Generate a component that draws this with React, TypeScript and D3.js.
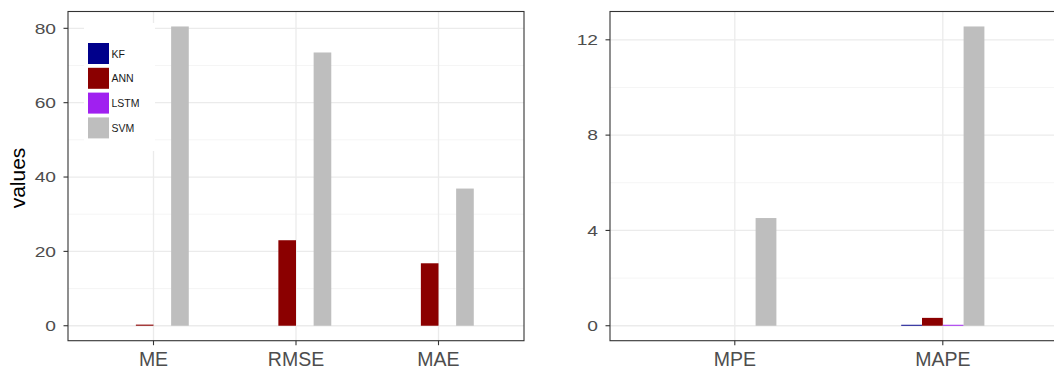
import React from "react";
import * as d3 from "d3";

// Error metrics per model
const seriesNames = ["KF", "ANN", "LSTM", "SVM"];
const seriesColors = ["#00008B", "#8B0000", "#A020F0", "#BEBEBE"];

const leftCategories = ["ME", "RMSE", "MAE"];
const leftKF = [0, 0, 0];
const leftANN = [0.3, 23.0, 16.8];
const leftLSTM = [0, 0, 0];
const leftSVM = [80.5, 73.5, 36.9];
const leftTicks = [0, 20, 40, 60, 80];
const leftMinor = [10, 30, 50, 70];

const rightCategories = ["MPE", "MAPE"];
const rightKF = [0, 0.04];
const rightANN = [0, 0.33];
const rightLSTM = [0, 0.04];
const rightSVM = [4.52, 12.56];
const rightTicks = [0, 4, 8, 12];
const rightMinor = [2, 6, 10];

const W = 1054;
const H = 370;
const FONT = "'Liberation Sans', Arial, sans-serif";
const STRETCH = 1.28;

type PanelProps = {
  x0: number;
  x1: number;
  y0: number;
  y1: number;
  categories: string[];
  series: number[][];
  ticks: number[];
  minor: number[];
  groupWidth: number;
};

function Panel({ x0, x1, y0, y1, categories, series, ticks, minor, groupWidth }: PanelProps) {
  const all = series.flat();
  const lo = Math.min(0, d3.min(all) as number);
  const hi = d3.max(all) as number;
  const pad = (hi - lo) * 0.05;
  const y = d3.scaleLinear().domain([lo - pad, hi + pad]).range([y1, y0]);
  const x = d3.scalePoint<string>().domain(categories).range([x0, x1]).padding(0.6);
  const step = x.step();
  const inner = d3
    .scaleBand<string>()
    .domain(seriesNames)
    .range([-(groupWidth * step) / 2, (groupWidth * step) / 2])
    .padding(0);

  return (
    <g>
      <rect x={x0} y={y0} width={x1 - x0} height={y1 - y0} fill="#fff" />
      {minor.map((t) => (
        <line key={"mi" + t} x1={x0} x2={x1} y1={y(t)} y2={y(t)} stroke="#F3F3F3" strokeWidth={0.8} />
      ))}
      {ticks.map((t) => (
        <line key={"ma" + t} x1={x0} x2={x1} y1={y(t)} y2={y(t)} stroke="#EBEBEB" strokeWidth={1.3} />
      ))}
      {categories.map((c) => (
        <line key={"v" + c} x1={x(c)!} x2={x(c)!} y1={y0} y2={y1} stroke="#EBEBEB" strokeWidth={1.3} />
      ))}
      {categories.map((c, ci) =>
        seriesNames.map((s, si) => {
          const v = series[si][ci];
          const bx = (x(c) as number) + (inner(s) as number);
          const top = Math.min(y(v), y(0));
          const h = Math.abs(y(v) - y(0));
          return (
            <rect
              key={c + s}
              x={bx}
              y={top}
              width={inner.bandwidth()}
              height={h}
              fill={seriesColors[si]}
            />
          );
        })
      )}
      <rect x={x0} y={y0} width={x1 - x0} height={y1 - y0} fill="none" stroke="#333333" strokeWidth={1.1} />
      {ticks.map((t) => (
        <g key={"yt" + t}>
          <line x1={x0 - 4.5} x2={x0} y1={y(t)} y2={y(t)} stroke="#333333" strokeWidth={1.1} />
          <text
            transform={`translate(${x0 - 12},${y(t)}) scale(${STRETCH},1)`}
            textAnchor="end"
            dominantBaseline="central"
            fontFamily={FONT}
            fontSize={15}
            fill="#4D4D4D"
          >
            {t}
          </text>
        </g>
      ))}
      {categories.map((c) => (
        <g key={"xt" + c}>
          <line x1={x(c)!} x2={x(c)!} y1={y1} y2={y1 + 4.5} stroke="#333333" strokeWidth={1.1} />
          <text
            x={x(c)}
            y={y1 + 25.5}
            textAnchor="middle"
            fontFamily={FONT}
            fontSize={19.5}
            fill="#4D4D4D"
          >
            {c}
          </text>
        </g>
      ))}
    </g>
  );
}

export default function App() {
  const legendX = 88;
  const legendY = 43;
  const key = 21;
  const gap = 24.8;
  return (
    <svg
      width={W}
      height={H}
      style={{ position: "absolute", left: 0, top: 0, background: "#fff" }}
    >
      <rect width={W} height={H} fill="#fff" />
      <Panel
        x0={68}
        x1={524}
        y0={11.5}
        y1={340.7}
        categories={leftCategories}
        series={[leftKF, leftANN, leftLSTM, leftSVM]}
        ticks={leftTicks}
        minor={leftMinor}
        groupWidth={0.495}
      />
      <Panel
        x0={610}
        x1={1067.6}
        y0={11.5}
        y1={340.7}
        categories={rightCategories}
        series={[rightKF, rightANN, rightLSTM, rightSVM]}
        ticks={rightTicks}
        minor={rightMinor}
        groupWidth={0.4}
      />
      <text
        transform="translate(25,178) rotate(-90)"
        textAnchor="middle"
        fontFamily={FONT}
        fontSize={21}
        fill="#000"
      >
        values
      </text>
      {/* legend */}
      <rect x={84} y={23} width={71} height={128} fill="#fff" />
      {seriesNames.map((s, i) => (
        <g key={"lg" + s}>
          <rect x={legendX} y={legendY + i * gap} width={key} height={key} fill={seriesColors[i]} />
          <text
            x={legendX + key + 2.5}
            y={legendY + i * gap + key / 2}
            dominantBaseline="central"
            fontFamily={FONT}
            fontSize={10.5}
            fill="#1a1a1a"
          >
            {s}
          </text>
        </g>
      ))}
    </svg>
  );
}
